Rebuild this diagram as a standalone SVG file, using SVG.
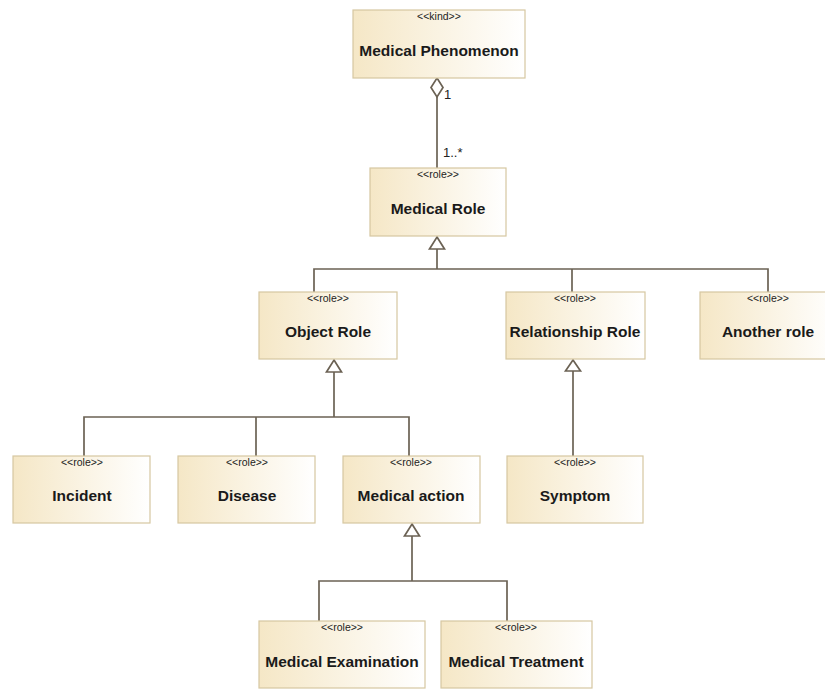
<svg xmlns="http://www.w3.org/2000/svg" width="825" height="689" viewBox="0 0 825 689">
<style>
.box{fill:url(#g);stroke:#d6c7a1;stroke-width:1.2}
.st{font-family:"Liberation Sans",Arial,sans-serif;font-size:10.5px;fill:#222;text-anchor:middle}
.nm{font-family:"Liberation Sans",Arial,sans-serif;font-size:15.5px;font-weight:bold;fill:#1a1a1a;text-anchor:middle}
.ln{fill:none;stroke:#6b6254;stroke-width:1.7}
.hd{fill:#fff;stroke:#6b6254;stroke-width:1.7;stroke-linejoin:miter}
.lb{font-family:"Liberation Sans",Arial,sans-serif;font-size:13px;fill:#222}
</style>
<defs>
<linearGradient id="g" x1="0" y1="0" x2="1" y2="0">
<stop offset="0" stop-color="#f5e7c6"/>
<stop offset="1" stop-color="#ffffff"/>
</linearGradient>
</defs>
<rect width="825" height="689" fill="#fff"/>
<g id="connectors">
<line class="ln" x1="437" y1="97" x2="437" y2="168"/>
<polygon class="hd" points="437,78 443,87.5 437,97 431,87.5"/>
<text class="lb" x="444" y="99">1</text>
<text class="lb" x="443" y="157">1..*</text>
<polyline class="ln" points="437,249 437,269"/>
<polyline class="ln" points="314,292 314,269 768,269 768,292"/>
<line class="ln" x1="572" y1="269" x2="572" y2="292"/>
<polygon class="hd" points="437,237 444.5,249 429.5,249"/>
<line class="ln" x1="334" y1="372" x2="334" y2="417"/>
<polyline class="ln" points="84,456 84,417 409,417 409,456"/>
<line class="ln" x1="256" y1="417" x2="256" y2="456"/>
<polygon class="hd" points="334,360 341.5,372 326.5,372"/>
<line class="ln" x1="573" y1="371" x2="573" y2="456"/>
<polygon class="hd" points="573,360 580.5,371 565.5,371"/>
<line class="ln" x1="412" y1="536" x2="412" y2="581"/>
<polyline class="ln" points="319,621 319,581 507,581 507,621"/>
<polygon class="hd" points="412,524 419.5,536 404.5,536"/>
</g>
<g id="medical-phenomenon">
<rect class="box" x="353" y="10" width="172" height="68"/>
<text class="st" x="439" y="20">&lt;&lt;kind&gt;&gt;</text>
<text class="nm" x="439" y="56">Medical Phenomenon</text>
</g>
<g id="medical-role">
<rect class="box" x="370" y="168" width="136" height="68"/>
<text class="st" x="438" y="178">&lt;&lt;role&gt;&gt;</text>
<text class="nm" x="438" y="214">Medical Role</text>
</g>
<g id="object-role">
<rect class="box" x="259" y="292" width="138" height="67"/>
<text class="st" x="328" y="302">&lt;&lt;role&gt;&gt;</text>
<text class="nm" x="328" y="337">Object Role</text>
</g>
<g id="relationship-role">
<rect class="box" x="506" y="292" width="139" height="67"/>
<text class="st" x="575" y="302">&lt;&lt;role&gt;&gt;</text>
<text class="nm" x="575" y="337">Relationship Role</text>
</g>
<g id="another-role">
<rect class="box" x="700" y="292" width="137" height="67"/>
<text class="st" x="768" y="302">&lt;&lt;role&gt;&gt;</text>
<text class="nm" x="768" y="337">Another role</text>
</g>
<g id="incident">
<rect class="box" x="13" y="456" width="137" height="67"/>
<text class="st" x="82" y="466">&lt;&lt;role&gt;&gt;</text>
<text class="nm" x="82" y="501">Incident</text>
</g>
<g id="disease">
<rect class="box" x="178" y="456" width="137" height="67"/>
<text class="st" x="247" y="466">&lt;&lt;role&gt;&gt;</text>
<text class="nm" x="247" y="501">Disease</text>
</g>
<g id="medical-action">
<rect class="box" x="343" y="456" width="137" height="67"/>
<text class="st" x="411" y="466">&lt;&lt;role&gt;&gt;</text>
<text class="nm" x="411" y="501">Medical action</text>
</g>
<g id="symptom">
<rect class="box" x="507" y="456" width="136" height="67"/>
<text class="st" x="575" y="466">&lt;&lt;role&gt;&gt;</text>
<text class="nm" x="575" y="501">Symptom</text>
</g>
<g id="medical-examination">
<rect class="box" x="259" y="621" width="166" height="67"/>
<text class="st" x="342" y="631">&lt;&lt;role&gt;&gt;</text>
<text class="nm" x="342" y="667">Medical Examination</text>
</g>
<g id="medical-treatment">
<rect class="box" x="441" y="621" width="151" height="67"/>
<text class="st" x="516" y="631">&lt;&lt;role&gt;&gt;</text>
<text class="nm" x="516" y="667">Medical Treatment</text>
</g>
</svg>
